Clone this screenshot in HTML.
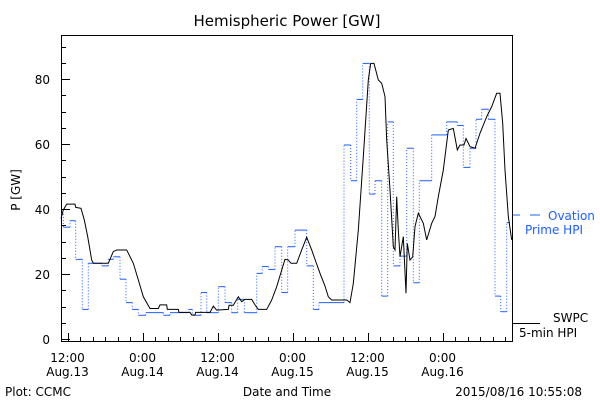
<!DOCTYPE html>
<html><head><meta charset="utf-8"><style>
body{margin:0;background:#fff;width:600px;height:400px;overflow:hidden}
svg text{font-family:"DejaVu Sans","Liberation Sans",sans-serif;font-size:12px}
</style></head><body>
<svg id="c" width="600" height="400">
<text x="287" y="26" text-anchor="middle" style="font-size:15px">Hemispheric Power [GW]</text>
<text transform="translate(20,190) rotate(-90)" text-anchor="middle">P [GW]</text>
<text x="287" y="396" text-anchor="middle">Date and Time</text>
<text x="5" y="396">Plot: CCMC</text>
<text x="582" y="396" text-anchor="end">2015/08/16 10:55:08</text>
<g>
<line x1="512" y1="215" x2="520" y2="215" stroke="#1f5fff"/><line x1="530" y1="215" x2="540" y2="215" stroke="#1f5fff"/>
<text x="548" y="220" fill="#1f5fff">Ovation</text><text x="525" y="234" fill="#1f5fff">Prime HPI</text></g>
<g>
<line x1="512" y1="323.5" x2="540" y2="323.5" stroke="#000"/>
<text x="553" y="322">SWPC</text><text x="519" y="337">5-min HPI</text></g>
<rect x="61.5" y="35.5" width="451" height="306" fill="none" stroke="#000"/>
<g id="ax"></g><g id="marks"></g>
</svg>
<script>
const yTicks=[0,20,40,60,80];
const xTickHours=[0,12,24,36,48,60];
const xTickTimes=["12:00","0:00","12:00","0:00","12:00","0:00"];
const xTickDates=["Aug.13","Aug.14","Aug.14","Aug.15","Aug.15","Aug.16"];
const swpcHours=[-1.04,-0.67,-0.13,1.2,1.31,2.16,2.69,3.23,3.87,4.13,6.53,7.33,7.87,9.47,10.53,11.33,12.13,13.2,14.53,14.8,15.87,15.97,17.73,17.84,19.6,19.87,20.4,20.5,22.8,23.33,23.87,25.73,25.84,26.53,27.33,27.87,28.4,29.47,30.0,30.53,31.87,32.67,33.47,34.27,34.8,35.33,35.76,36.67,37.47,38.27,39.07,39.6,40.4,41.2,41.73,42.27,44.67,45.2,45.73,46.53,47.33,48.13,48.51,49.04,49.73,50.27,50.8,51.07,51.6,52.13,52.4,52.67,52.93,53.2,53.73,54.16,54.37,54.8,55.23,55.6,56.13,56.93,57.47,58.27,58.8,59.33,60.13,60.93,61.73,62.37,62.8,63.44,63.76,64.4,65.2,66.0,67.07,67.87,68.67,69.2,69.63,70.0,70.53,71.07];
const swpcValues=[37.1,39.7,41.5,41.5,40.5,40.2,36.6,31.5,24.3,23.3,23.3,26.9,27.4,27.4,23.3,18.2,13.0,9.4,9.4,10.5,10.5,9.1,9.1,8.2,8.2,7.4,7.4,8.2,8.2,10.1,8.9,9.1,10.4,10.4,13.0,11.5,12.2,12.2,10.5,9.1,9.1,12.0,16.1,21.2,24.5,24.3,23.3,23.3,27.4,31.3,27.4,24.5,20.2,16.3,13.0,12.0,12.0,11.2,17.1,33.5,56.1,79.7,84.8,84.8,79.7,78.7,74.6,61.2,45.9,28.4,27.4,43.8,33.5,25.3,31.5,14.1,29.4,24.3,25.3,34.6,38.7,35.6,30.5,35.6,37.7,43.8,52.0,64.3,64.8,58.2,59.7,59.7,61.7,59.2,58.7,63.3,68.4,71.5,75.6,75.6,66.4,52.0,37.7,30.5];
const hpiStartHours=[-1.04,-0.67,0.4,1.31,2.37,3.33,5.47,6.53,7.33,8.4,9.36,10.37,11.33,12.51,15.33,16.4,19.33,19.97,21.36,22.27,24.13,25.2,26.27,27.23,28.29,30.27,31.17,32.13,33.2,34.27,35.23,36.4,38.27,39.33,40.24,44.24,45.31,46.27,47.23,48.29,49.2,50.27,51.23,52.13,53.2,54.27,55.33,56.29,58.27,60.67,62.37,63.33,64.4,65.36,66.27,67.33,68.4,69.31,70.27];
const hpiValues=[38.5,34.4,36.4,24.5,9.1,23.3,22.5,24.5,25.3,18.4,11.2,9.1,7.3,8.1,7.3,8.1,9.1,7.3,14.3,8.1,16.1,11.2,8.1,12.2,8.1,20.2,22.3,21.4,28.4,14.3,28.4,33.5,22.5,9.1,11.2,59.7,48.7,73.7,84.8,44.6,48.7,13.2,66.8,22.5,25.5,58.7,17.3,48.7,62.8,66.8,65.7,52.8,58.7,67.6,70.7,67.6,13.2,8.4,35.8];
const hpiEndHour=70.8;
const X=h=>67.5+h*6.25, Y=v=>339-v*3.25;
const NS="http://www.w3.org/2000/svg";
const ax=document.getElementById('ax'), mk=document.getElementById('marks');
function mkEl(t,a,p){const e=document.createElementNS(NS,t);for(const k in a)e.setAttribute(k,a[k]);p.appendChild(e);return e;}
for(let v=0;v<=90;v+=5){const maj=v%20===0;
const l=mkEl('line',{x1:62,x2:62+(maj?8:4),y1:Math.round(Y(v))+0.5,y2:Math.round(Y(v))+0.5,stroke:'#000'},ax);

}
yTicks.forEach(v=>{const t=mkEl('text',{x:50,y:Y(v)+5,'text-anchor':'end'},ax);t.textContent=v;

});
for(let h=0;h<=70;h+=2){const maj=h%12===0;
const l=mkEl('line',{x1:Math.round(X(h))+0.5,x2:Math.round(X(h))+0.5,y1:341,y2:341-(maj?8:4),stroke:'#000'},ax);

}
xTickHours.forEach((h,i)=>{const t=mkEl('text',{x:X(h),y:362,'text-anchor':'middle'},ax);t.textContent=xTickTimes[i];


const d=mkEl('text',{x:X(h),y:376,'text-anchor':'middle'},ax);d.textContent=xTickDates[i];

});
hpiStartHours.forEach((h,i)=>{const e=i<hpiStartHours.length-1?hpiStartHours[i+1]:hpiEndHour;
const l=mkEl('line',{x1:X(h),x2:X(e),y1:Y(hpiValues[i]),y2:Y(hpiValues[i]),stroke:'#1f5fff','stroke-width':1},mk);


if(i<hpiStartHours.length-1){const v=mkEl('line',{x1:X(e),x2:X(e),y1:Y(hpiValues[i]),y2:Y(hpiValues[i+1]),stroke:'#1f5fff','stroke-dasharray':'1,2'},mk);

}});
const p=mkEl('polyline',{points:swpcHours.map((h,i)=>X(h)+','+Y(swpcValues[i])).join(' '),fill:'none',stroke:'#000','stroke-width':1},mk);


</script>
</body></html>
